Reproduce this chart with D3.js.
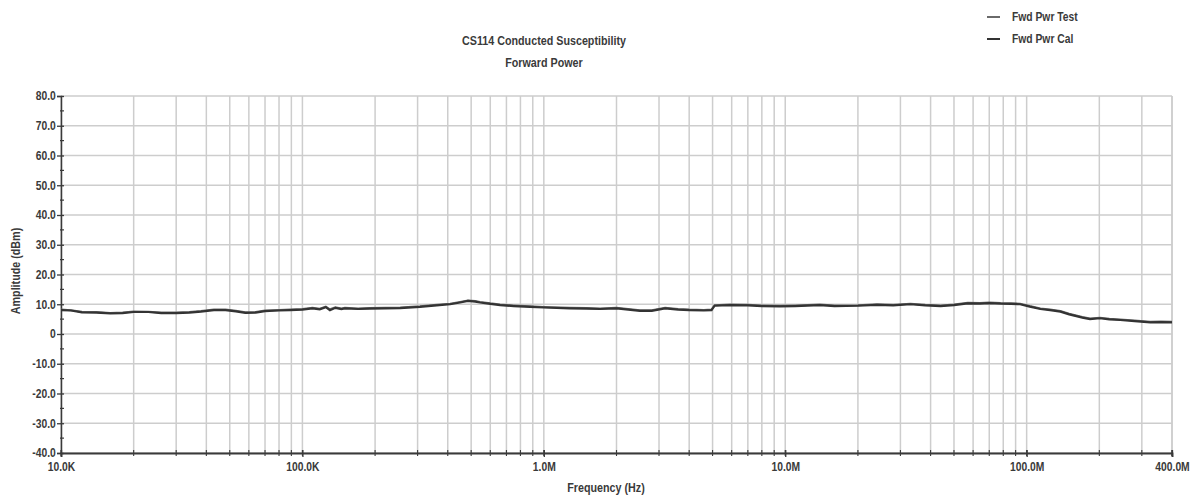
<!DOCTYPE html>
<html>
<head>
<meta charset="utf-8">
<script src="https://cdn.jsdelivr.net/npm/d3@7"></script>
<style>
  html, body { margin: 0; padding: 0; background: #ffffff; }
  svg { display: block; }
  text { font-family: "Liberation Sans Narrow", "Arial Narrow", "Liberation Sans", sans-serif; font-weight: bold; fill: #3a3a3a; }
</style>
</head>
<body>
<svg id="chart" width="1199" height="497"></svg>
<script>
// ---- data ----
const titleLines = ["CS114 Conducted Susceptibility", "Forward Power"];
const seriesNames = ["Fwd Pwr Test", "Fwd Pwr Cal"];
const freqsHz = [
  10e3, 11e3, 12.2e3, 14e3, 16e3, 18e3, 20e3, 23e3, 26e3, 30e3,
  34e3, 38e3, 43e3, 48e3, 53e3, 58e3, 64e3, 70e3, 80e3, 89e3,
  100e3, 110e3, 118e3, 125e3, 130e3, 137e3, 145e3, 150e3, 170e3, 190e3,
  220e3, 254e3, 307e3, 360e3, 409e3, 450e3, 485e3, 520e3, 544e3, 600e3,
  659e3, 750e3, 877e3, 1.0e6, 1.28e6, 1.5e6, 1.71e6, 2.0e6, 2.5e6, 2.8e6,
  3.18e6, 3.6e6, 4.0e6, 4.6e6, 4.95e6, 5.1e6, 5.9e6, 7.0e6, 8.0e6, 9.5e6,
  11e6, 13.9e6, 16e6, 20e6, 24e6, 28e6, 33e6, 38e6, 44e6, 50e6,
  57e6, 64e6, 70e6, 78e6, 86e6, 94e6, 103e6, 114e6, 125e6, 138e6,
  150e6, 159e6, 170e6, 183e6, 201e6, 220e6, 244e6, 280e6, 325e6, 360e6, 400e6
];
const calDbm = [
  8.0, 7.9, 7.3, 7.2, 6.9, 7.0, 7.4, 7.4, 7.0, 7.0,
  7.2, 7.5, 8.0, 8.0, 7.6, 7.1, 7.2, 7.7, 7.9, 8.0,
  8.2, 8.6, 8.3, 9.0, 8.0, 8.8, 8.4, 8.6, 8.4, 8.5,
  8.6, 8.7, 9.1, 9.6, 10.0, 10.6, 11.1, 10.9, 10.6, 10.1,
  9.7, 9.4, 9.1, 8.9, 8.6, 8.5, 8.4, 8.6, 7.8, 7.8,
  8.6, 8.2, 8.0, 7.9, 8.0, 9.5, 9.7, 9.6, 9.4, 9.3,
  9.4, 9.7, 9.4, 9.5, 9.8, 9.6, 10.0, 9.6, 9.4, 9.7,
  10.3, 10.2, 10.4, 10.2, 10.1, 10.0, 9.2, 8.4, 8.0, 7.5,
  6.6, 6.1, 5.5, 5.0, 5.3, 4.9, 4.7, 4.3, 3.9, 4.0, 3.9
];
const testDbm = [
  8.2, 8.0, 7.5, 7.4, 7.1, 7.2, 7.6, 7.5, 7.2, 7.2,
  7.4, 7.7, 8.2, 8.2, 7.8, 7.3, 7.4, 7.9, 8.1, 8.2,
  8.4, 8.8, 8.5, 9.2, 8.3, 9.0, 8.6, 8.8, 8.6, 8.7,
  8.8, 8.9, 9.3, 9.8, 10.2, 10.8, 11.3, 11.1, 10.8, 10.3,
  9.9, 9.6, 9.3, 9.1, 8.8, 8.7, 8.6, 8.8, 8.0, 8.0,
  8.8, 8.4, 8.2, 8.1, 8.2, 9.7, 9.9, 9.8, 9.6, 9.5,
  9.6, 9.9, 9.6, 9.7, 10.0, 9.8, 10.2, 9.8, 9.6, 9.9,
  10.5, 10.4, 10.6, 10.4, 10.3, 10.2, 9.4, 8.6, 8.2, 7.7,
  6.8, 6.3, 5.7, 5.2, 5.5, 5.1, 4.9, 4.5, 4.1, 4.2, 4.1
];
const yTickValues = [80, 70, 60, 50, 40, 30, 20, 10, 0, -10, -20, -30, -40];
const yTickLabels = ["80.0", "70.0", "60.0", "50.0", "40.0", "30.0", "20.0", "10.0", "0", "-10.0", "-20.0", "-30.0", "-40.0"];
const xTickValues = [10e3, 100e3, 1e6, 10e6, 100e6, 400e6];
const xTickLabels = ["10.0K", "100.0K", "1.0M", "10.0M", "100.0M", "400.0M"];
const xAxisTitle = "Frequency (Hz)";
const yAxisTitle = "Amplitude (dBm)";

// ---- layout ----
const svg = d3.select("#chart");
const plotL = 61, plotR = 1172, plotT = 96, plotB = 453;
const narrow = 0.86;

const x = d3.scaleLog().domain([10e3, 400e6]).range([plotL, plotR]);
const y = d3.scaleLinear().domain([-40, 80]).range([plotB, plotT]);

// minor frequency grid: 1..9 per decade
const minorFreqs = [];
for (let d = 1e4; d < 4e8; d *= 10) {
  for (let m = 1; m <= 9; m++) {
    const f = d * m;
    if (f <= 4e8 + 1) minorFreqs.push(f);
  }
}
minorFreqs.push(4e8);

// vertical grid
svg.append("g").selectAll("line").data(minorFreqs).join("line")
  .attr("x1", d => x(d)).attr("x2", d => x(d))
  .attr("y1", plotT).attr("y2", plotB)
  .attr("stroke", "#cdcdcd").attr("stroke-width", 1.5);

// horizontal grid
svg.append("g").selectAll("line").data(yTickValues).join("line")
  .attr("x1", plotL).attr("x2", plotR)
  .attr("y1", d => y(d)).attr("y2", d => y(d))
  .attr("stroke", "#cdcdcd").attr("stroke-width", 1.5);

// y axis
const yMinor = d3.range(-35, 80, 10);
const yAxis = d3.axisLeft(y).tickValues(yTickValues)
  .tickFormat((d, i) => yTickLabels[i]).tickSize(4).tickPadding(2);
const gy = svg.append("g").attr("transform", `translate(${plotL},0)`).call(yAxis);
gy.select(".domain").attr("stroke", "#3a3a3a").attr("stroke-width", 1.5);
gy.selectAll(".tick line").attr("stroke", "#3a3a3a").attr("stroke-width", 1.3).attr("x2", 3).attr("x1", -4);
gy.selectAll(".tick text").attr("font-size", 12).attr("fill", "#3a3a3a")
  .attr("transform", `scale(${narrow},1)`);
svg.append("g").selectAll("line").data(yMinor).join("line")
  .attr("x1", plotL - 1).attr("x2", plotL + 3)
  .attr("y1", d => y(d)).attr("y2", d => y(d))
  .attr("stroke", "#3a3a3a").attr("stroke-width", 1.2);

// x axis
const xAxis = d3.axisBottom(x).tickValues(xTickValues)
  .tickFormat((d, i) => xTickLabels[i]).tickSize(4).tickPadding(5);
const gx = svg.append("g").attr("transform", `translate(0,${plotB})`).call(xAxis);
gx.select(".domain").attr("stroke", "#3a3a3a").attr("stroke-width", 1.8);
gx.selectAll(".tick line").attr("stroke", "#3a3a3a").attr("stroke-width", 1.3).attr("y1", -3);
gx.selectAll(".tick text").attr("font-size", 12).attr("fill", "#3a3a3a")
  .attr("transform", `scale(${narrow},1)`);
svg.append("g").selectAll("line").data(minorFreqs).join("line")
  .attr("x1", d => x(d)).attr("x2", d => x(d))
  .attr("y1", plotB - 3).attr("y2", plotB + 3)
  .attr("stroke", "#3a3a3a").attr("stroke-width", 1.1);

// lines
const lineGen = vals => d3.line().x((d, i) => x(freqsHz[i])).y(d => y(d))(vals);
svg.append("path").attr("d", lineGen(testDbm))
  .attr("fill", "none").attr("stroke", "#6a6a6a").attr("stroke-width", 2);
svg.append("path").attr("d", lineGen(calDbm))
  .attr("fill", "none").attr("stroke", "#333333").attr("stroke-width", 2.2);

// text helper with horizontal condensing
function label(px, py, str, size, rotate) {
  const g = svg.append("g").attr("transform", `translate(${px},${py})${rotate ? " rotate(-90)" : ""}`);
  g.append("text").attr("text-anchor", "middle").attr("font-size", size)
    .attr("transform", `scale(${narrow},1)`).text(str);
}
label(544, 45, titleLines[0], 12.5);
label(544, 67, titleLines[1], 12.5);
label(606, 492, xAxisTitle, 12.5);
label(20, 271, yAxisTitle, 12.5, true);

// legend
const legendColors = ["#6a6a6a", "#333333"];
const lg = svg.append("g");
seriesNames.forEach((name, i) => {
  const ly = 17 + i * 22;
  lg.append("line").attr("x1", 987).attr("x2", 1000).attr("y1", ly).attr("y2", ly)
    .attr("stroke", legendColors[i]).attr("stroke-width", 2);
  lg.append("g").attr("transform", `translate(1012,${ly + 4})`)
    .append("text").attr("font-size", 12).attr("transform", `scale(${narrow},1)`).text(name);
});
</script>
</body>
</html>
